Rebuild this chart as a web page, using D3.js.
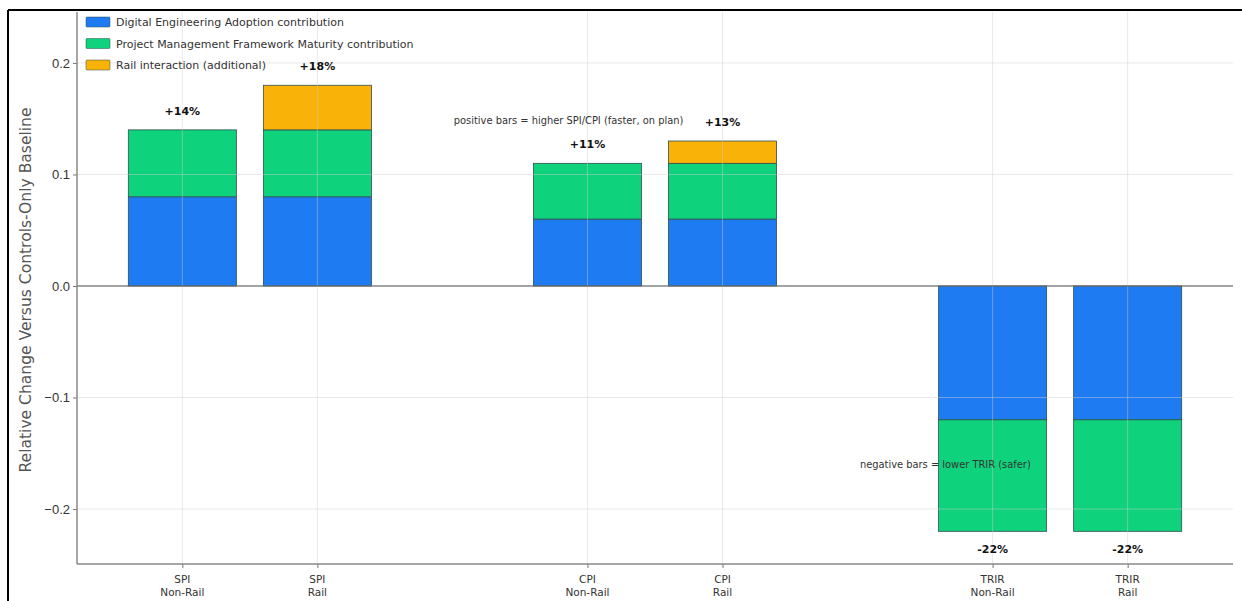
<!DOCTYPE html>
<html><head><meta charset="utf-8">
<script src="https://cdn.jsdelivr.net/npm/d3@7"></script>
<style>
html,body{margin:0;padding:0;background:#fff;}
svg{display:block;font-family:"DejaVu Sans",sans-serif;}
</style></head>
<body><svg id="c" width="1242" height="601"></svg>
<script>
const metrics = ["SPI","SPI","CPI","CPI","TRIR","TRIR"];
const groups = ["Non-Rail","Rail","Non-Rail","Rail","Non-Rail","Rail"];
const xPos = [0,1,3,4,6,7];
const deContrib = [0.08,0.08,0.06,0.06,-0.12,-0.12];
const pmContrib = [0.06,0.06,0.05,0.05,-0.10,-0.10];
const railContrib = [0,0.04,0,0.02,0,0];
const totalLabels = ["+14%","+18%","+11%","+13%","-22%","-22%"];
const seriesNames = ["Digital Engineering Adoption contribution","Project Management Framework Maturity contribution","Rail interaction (additional)"];
const colors = ["#1f7bf2","#0fd27c","#f9b208"];
const yTicks = [-0.2,-0.1,0.0,0.1,0.2];
const yLabel = "Relative Change Versus Controls-Only Baseline";
const notePos = "positive bars = higher SPI/CPI (faster, on plan)";
const noteNeg = "negative bars = lower TRIR (safer)";

const svg = d3.select("#c");
const L=77, R=1233, T=12, B=564;
const x = d3.scaleLinear().domain([-0.78,7.78]).range([L,R]);
const y = d3.scaleLinear().domain([-0.2493,0.2457]).range([B,T]);
const bw = x(0.8)-x(0);

// outer frame
svg.append("line").attr("x1",8).attr("x2",8).attr("y1",10).attr("y2",601).attr("stroke","#000").attr("stroke-width",2);
svg.append("line").attr("x1",8).attr("x2",1242).attr("y1",10).attr("y2",10).attr("stroke","#000").attr("stroke-width",2);

// bars
const stacks = [deContrib,pmContrib,railContrib];
xPos.forEach((xp,i)=>{
  let base=0;
  stacks.forEach((arr,s)=>{
    const v=arr[i];
    if(v===0) return;
    const y0=y(base), y1=y(base+v);
    svg.append("rect").attr("x",x(xp)-bw/2).attr("width",bw)
      .attr("y",Math.min(y0,y1)).attr("height",Math.abs(y1-y0))
      .attr("fill",colors[s]).attr("stroke","#2f4f4f").attr("stroke-width",0.8);
    base+=v;
  });
});

// grid (drawn over bars, faint)
const grid = svg.append("g").attr("stroke","#cfcfcf").attr("stroke-opacity",0.45).attr("stroke-width",1);
yTicks.forEach(t=>grid.append("line").attr("x1",L).attr("x2",R).attr("y1",y(t)).attr("y2",y(t)));
xPos.forEach(t=>grid.append("line").attr("x1",x(t)).attr("x2",x(t)).attr("y1",T).attr("y2",B));

// zero line
svg.append("line").attr("x1",L).attr("x2",R).attr("y1",y(0)).attr("y2",y(0)).attr("stroke","#555").attr("stroke-width",1);

// axes
const yAxis = d3.axisLeft(y).tickValues(yTicks).tickSize(4).tickPadding(3)
  .tickFormat(d=>d3.format(".1f")(d).replace("-","\u2212"));
const gy = svg.append("g").attr("transform",`translate(${L},0)`).call(yAxis);
gy.select(".domain").remove();
gy.selectAll(".tick line").attr("stroke","#777");
gy.selectAll(".tick text").attr("fill","#333").style("font-size","13px");

const xAxis = d3.axisBottom(x).tickValues(xPos).tickSize(4).tickFormat("");
const gx = svg.append("g").attr("transform",`translate(0,${B})`).call(xAxis);
gx.select(".domain").remove();
gx.selectAll(".tick line").attr("stroke","#777");
xPos.forEach((xp,i)=>{
  const t=svg.append("text").attr("x",x(xp)).attr("y",B+19).attr("text-anchor","middle")
    .attr("fill","#333").style("font-size","10.5px");
  t.append("tspan").attr("x",x(xp)).text(metrics[i]);
  t.append("tspan").attr("x",x(xp)).attr("dy",13).text(groups[i]);
});

// spines
svg.append("line").attr("x1",L).attr("x2",L).attr("y1",T).attr("y2",B).attr("stroke","#888").attr("stroke-width",1.5);
svg.append("line").attr("x1",L).attr("x2",R).attr("y1",B).attr("y2",B).attr("stroke","#888").attr("stroke-width",1.5);

// y label
svg.append("text").attr("transform",`translate(31,290) rotate(-90)`).attr("text-anchor","middle")
  .attr("fill","#555").style("font-size","15px").attr("textLength",365).attr("lengthAdjust","spacingAndGlyphs").text(yLabel);

// total labels
xPos.forEach((xp,i)=>{
  const tot = deContrib[i]+pmContrib[i]+railContrib[i];
  const yy = tot>=0 ? y(tot)-15 : y(tot)+22;
  svg.append("text").attr("x",x(xp)).attr("y",yy).attr("text-anchor","middle")
    .attr("fill","#111").style("font-size","11px").style("font-weight","bold").text(totalLabels[i]);
});

// notes
svg.append("text").attr("x",x(2.86)).attr("y",y(0.145)).attr("text-anchor","middle")
  .attr("fill","#333").style("font-size","9.9px").text(notePos);
svg.append("text").attr("x",x(5.65)).attr("y",y(-0.1635)).attr("text-anchor","middle")
  .attr("fill","#333").style("font-size","9.9px").text(noteNeg);

// legend
const lg = svg.append("g").attr("transform","translate(86,17)");
seriesNames.forEach((n,i)=>{
  const g=lg.append("g").attr("transform",`translate(0,${i*21.5})`);
  g.append("rect").attr("width",24).attr("height",10).attr("rx",1).attr("fill",colors[i]).attr("stroke","#2f4f4f").attr("stroke-width",0.5);
  g.append("text").attr("x",30).attr("y",9).attr("fill","#333").style("font-size","11px").text(n);
});
</script></body></html>
